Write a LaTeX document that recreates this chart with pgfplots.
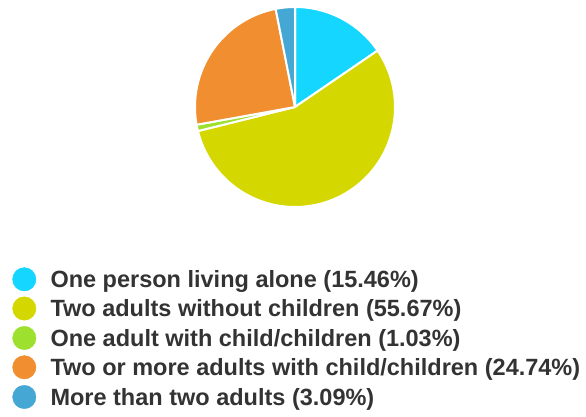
\documentclass[border=0pt]{standalone}
\usepackage{pgfplots}
\pgfplotsset{compat=1.18}
\usepackage{fontspec}
\setmainfont{Liberation Sans}[BoldFont={Liberation Sans Bold}]
\definecolor{cA}{RGB}{20,214,255}
\definecolor{cB}{RGB}{212,216,0}
\definecolor{cC}{RGB}{158,224,46}
\definecolor{cD}{RGB}{240,142,48}
\definecolor{cE}{RGB}{69,168,212}
\definecolor{txt}{RGB}{51,51,51}
% pie slice: colour, cumulative start (%), share (%)
\newcommand{\slice}[3]{%
  \addplot[fill=#1, draw=white, line width=2pt, line join=round, domain={90-3.6*(#2+#3)}:{90-3.6*(#2)}, samples=80]
    ({295+100*cos(x)},{107-100*sin(x)}) -- (axis cs:295,107) -- cycle;}
\begin{document}
\begin{tikzpicture}
\begin{axis}[
  scale only axis, width=586pt, height=417pt,
  xmin=0, xmax=586, ymin=0, ymax=417, y dir=reverse,
  hide axis, clip=false,
  every node near coord/.style={anchor=base west, inner sep=0pt, xshift=26pt, yshift=-8.4pt,
     font=\fontsize{23.5}{28}\selectfont\bfseries, text=txt},
]
\slice{cA}{0}{15.46}
\slice{cB}{15.46}{55.67}
\slice{cC}{71.13}{1.03}
\slice{cD}{72.16}{24.74}
\slice{cE}{96.90}{3.10}
% legend
\addplot[only marks, mark=*, mark size=11.7pt, color=cA, nodes near coords, point meta=explicit symbolic]
  coordinates {(24.3,279.3) [One person living alone (15.46\%)]};
\addplot[only marks, mark=*, mark size=11.7pt, color=cB, nodes near coords, point meta=explicit symbolic]
  coordinates {(24.3,308.5) [Two adults without children (55.67\%)]};
\addplot[only marks, mark=*, mark size=11.7pt, color=cC, nodes near coords, point meta=explicit symbolic]
  coordinates {(24.3,338) [One adult with child/children (1.03\%)]};
\addplot[only marks, mark=*, mark size=11.7pt, color=cD, nodes near coords, point meta=explicit symbolic]
  coordinates {(24.3,367.3) [Two or more adults with child/children (24.74\%)]};
\addplot[only marks, mark=*, mark size=11.7pt, color=cE, nodes near coords, point meta=explicit symbolic]
  coordinates {(24.3,397) [More than two adults (3.09\%)]};
\end{axis}
\path (current axis.south west) rectangle (current axis.north east);
\end{tikzpicture}
\end{document}
